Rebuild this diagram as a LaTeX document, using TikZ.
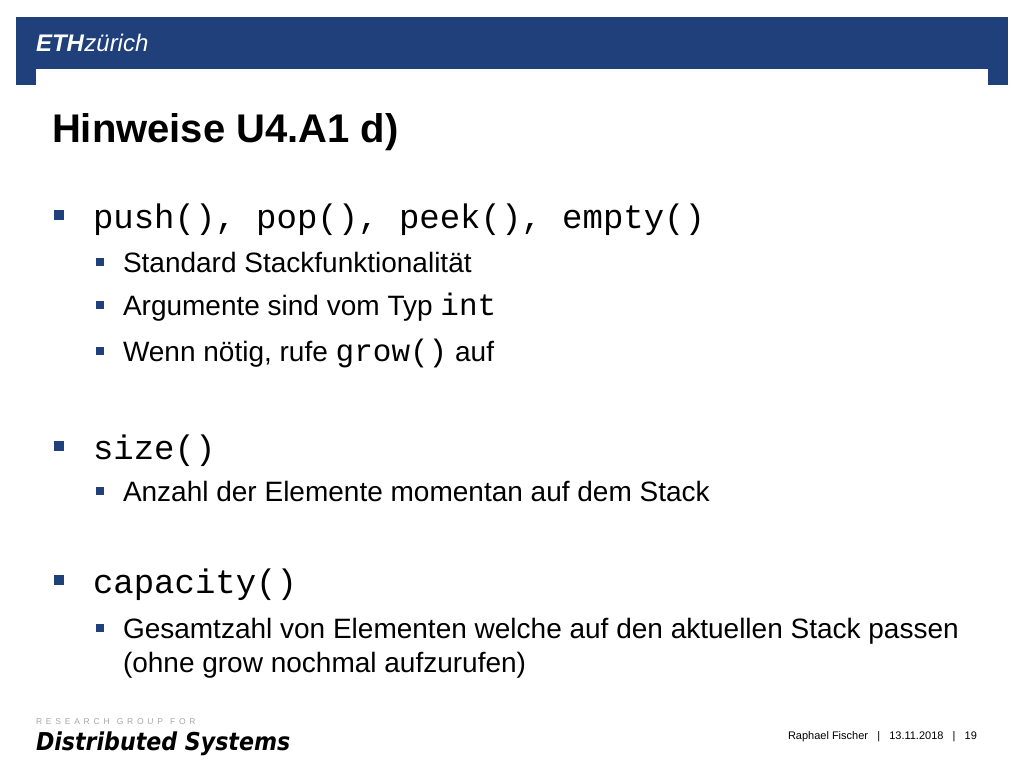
\documentclass[tikz,border=0pt]{standalone}
\usepackage{fontspec}
\setmainfont{Liberation Sans}
\newfontfamily\monof{Liberation Mono}
\newfontfamily\condf{DejaVu Sans Condensed}
\definecolor{ethblue}{HTML}{1F407A}
\begin{document}
\begin{tikzpicture}[x=1pt,y=-1pt,
  every node/.style={inner sep=0pt,outer sep=0pt,anchor=base west},
  lone/.style={font=\monof\fontsize{34}{38}\selectfont},
  ltwo/.style={font=\fontsize{28}{30}\selectfont},
  bone/.style={fill=ethblue},
]
\useasboundingbox (0,0) rectangle (1024,768);
\fill[ethblue] (16,17) rectangle (1008,85);
\fill[white] (36,69) rectangle (988,86);
\node[text=white,font=\fontsize{24}{24}\selectfont] (logo) at (36,52) {\textbf{\textit{ETH}}\textit{zürich}};
\node[font=\bfseries\fontsize{40}{44}\selectfont] (title) at (52,142) {Hinweise U4.A1 d)};
% level 1 bullets
\foreach \y/\n in {215/b1,446/b2,580/b3} \fill[bone] (54,\y-5) rectangle ++(10,10);
\node[lone] (t1) at (93,228) {push(), pop(), peek(), empty()};
\node[lone] (t2) at (93,459) {size()};
\node[lone] (t3) at (93,593) {capacity()};
% level 2 bullets
\foreach \y in {262,305,351,491,628} \fill[bone] (96,\y-4) rectangle ++(8,8);
\node[ltwo] (s1) at (123,272) {Standard Stackfunktionalität};
\node[ltwo] (s2) at (123,315) {Argumente sind vom Typ {\monof\fontsize{31}{32}\selectfont int}};
\node[ltwo] (s3) at (123,361) {Wenn nötig, rufe {\monof\fontsize{31}{32}\selectfont grow()}\ auf};
\node[ltwo] (s4) at (123,501) {Anzahl der Elemente momentan auf dem Stack};
\node[ltwo] (s5) at (123,638) {Gesamtzahl von Elementen welche auf den aktuellen Stack passen};
\node[ltwo] (s6) at (123,672) {(ohne grow nochmal aufzurufen)};
% footer
\node[text=gray!70,font=\fontsize{8.5}{8}\selectfont] (rg) at (36,724) {R\ \,E\ \,S\ \,E\ \,A\ \,R\ \,C\ \,H\ \ \ G\ \,R\ \,O\ \,U\ \,P\ \ \ F\ \,O\ \,R};
\node[font=\condf\bfseries\itshape\fontsize{24.6}{26}\selectfont] (ds) at (36,750) {Distributed Systems};
\node[font=\fontsize{11}{11}\selectfont] (ft) at (788,739) {Raphael Fischer\ \ \ |\ \ \ 13.11.2018\ \ \ |\ \ \ 19};
\end{tikzpicture}
\end{document}
